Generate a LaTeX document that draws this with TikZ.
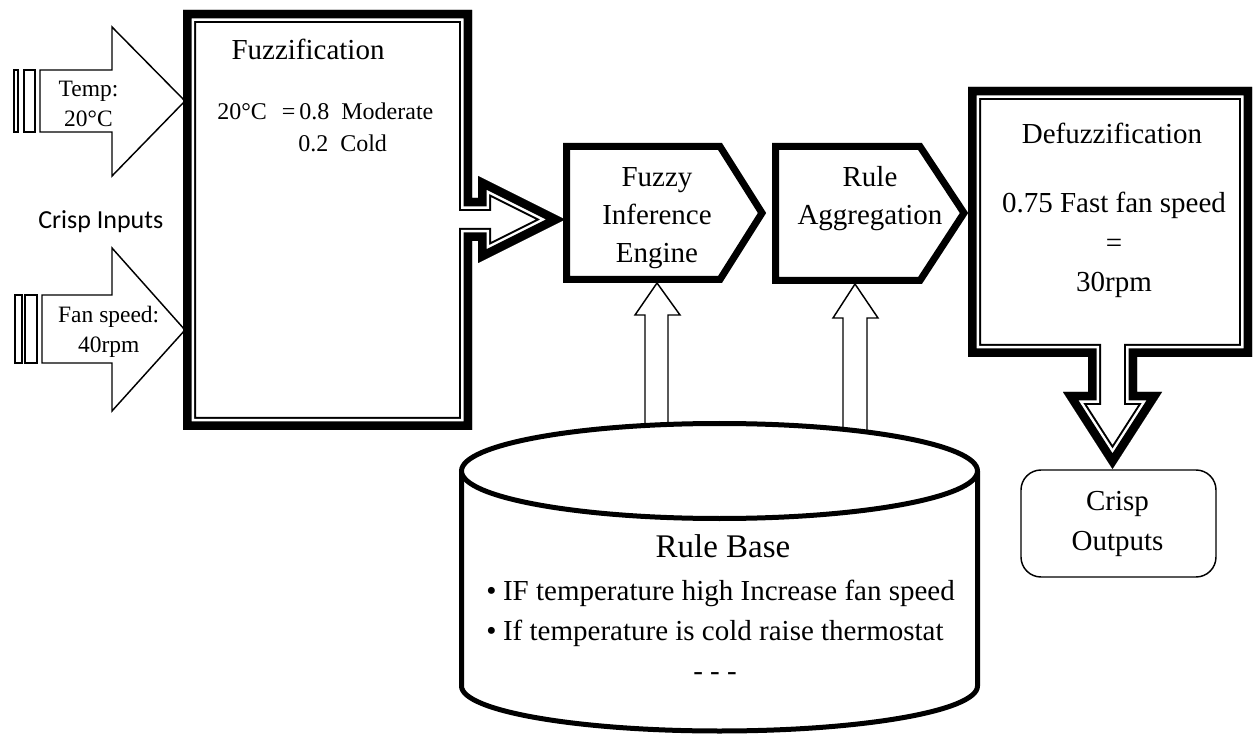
\documentclass[tikz,border=0pt]{standalone}
\usepackage{fontspec}
\setmainfont{Liberation Serif}
\newfontfamily\calibrifont{Carlito}

% outline of a block drawn with a thick-thin compound border, kept inside the shape
\newcommand\compoundshape[1]{%
  \begin{scope}
    \clip #1;
    \fill[white] #1;
    \draw[line width=19.5pt] #1;
    \draw[white, line width=16.5pt] #1;
    \draw[line width=12.75pt] #1;
  \end{scope}}

\begin{document}
\begin{tikzpicture}[x=0.75pt, y=-0.75pt, line join=miter]
\tikzset{
  blockarrow/.style={draw=black, line width=1.1pt, fill=white},
  pentbox/.style={draw=black, line width=5.25pt, fill=white},
  cylline/.style={draw=black, line width=3.75pt},
  bigtext/.style={font=\fontsize{21.75}{28.5}\selectfont, align=center, inner sep=0pt},
  midtext/.style={font=\fontsize{18}{22.5}\selectfont, inner sep=0pt},
  smalltext/.style={font=\fontsize{17.6}{22.5}\selectfont, align=center, inner sep=0pt},
}
\useasboundingbox (0,0) rectangle (1254,734);

% ---- crisp input arrows (striped block arrows)
\draw[blockarrow] (14,70) rectangle (18,132);
\draw[blockarrow] (24,70) rectangle (35,132);
\draw[blockarrow] (40,70) -- (112,70) -- (112,27) -- (185,101) -- (112,176) -- (112,132) -- (40,132) -- cycle;
\draw[blockarrow] (15,295) rectangle (22,363);
\draw[blockarrow] (25,295) rectangle (37,363);
\draw[blockarrow] (42,295) -- (112,295) -- (112,248) -- (185,330) -- (112,411) -- (112,363) -- (42,363) -- cycle;

\node[smalltext] (temp) at (88.5,104.2) {Temp:\\20°C};
\node[smalltext] (fan) at (108.7,331.6) {Fan speed:\\40rpm};
\node[font=\calibrifont\fontsize{19.5}{24}\selectfont, inner sep=0pt, anchor=base west] (crispin) at (38,229) {Crisp Inputs};

% ---- fuzzification block with its outgoing arrow
\def\fuzzpath{(183,10) -- (472,10) -- (472,198) -- (478,198) -- (478,176) -- (565,219.5) -- (478,263) -- (478,241) -- (472,241) -- (472,430) -- (183,430) -- cycle}
\compoundshape{\fuzzpath}
\node[bigtext, anchor=base] (fuzz) at (308,60) {Fuzzification};
\node[midtext, anchor=base west] (memb1) at (217,120) {20°C\hspace{11.25pt}=\hspace{3pt}0.8\hspace{9pt}Moderate};
\node[midtext, anchor=base west] (memb2) at (298,152) {0.2\hspace{9pt}Cold};

% ---- inference and aggregation blocks
\draw[pentbox] (566.5,146.5) -- (720,146.5) -- (762,213) -- (720,279.5) -- (566.5,279.5) -- cycle;
\node[bigtext] (fie) at (657,218.5) {Fuzzy\\Inference\\Engine};
\draw[pentbox] (775.5,146.5) -- (920,146.5) -- (964,213) -- (920,280.5) -- (775.5,280.5) -- cycle;
\node[bigtext] (agg) at (870,198.5) {Rule\\Aggregation};

% ---- defuzzification block with its downward arrow
\def\defuzzpath{(968,87) -- (1252,87) -- (1252,357) -- (1137,357) -- (1137,392) -- (1162,392) -- (1112.5,469) -- (1063,392) -- (1088,392) -- (1088,357) -- (968,357) -- cycle}
\compoundshape{\defuzzpath}
\node[bigtext, anchor=base] (defuzz) at (1112,144) {Defuzzification};
\node[bigtext, font=\fontsize{21.75}{29.6}\selectfont] (result) at (1114,245) {0.75 Fast fan speed\\=\\30rpm};

% ---- rule base feeding arrows
\draw[blockarrow] (645,445) -- (645,315) -- (635,315) -- (657,283) -- (680,315) -- (668,315) -- (668,445) -- cycle;
\draw[blockarrow] (843,445) -- (843,318) -- (833,318) -- (855,284) -- (878,318) -- (867,318) -- (867,445) -- cycle;

% ---- rule base cylinder
\fill[white] (461.5,471) -- (461.5,686) arc[start angle=180, end angle=0, x radius=258, y radius=45] -- (977.5,471) -- cycle;
\draw[cylline] (461.5,471) -- (461.5,686) arc[start angle=180, end angle=0, x radius=258, y radius=45] -- (977.5,471);
\draw[cylline, fill=white] (719.5,471) ellipse[x radius=258, y radius=47.5];
\node[font=\fontsize{24.75}{30}\selectfont, inner sep=0pt, anchor=base] (rb) at (723,557) {Rule Base};
\node[bigtext, anchor=base west] (rule1) at (486,600) {\textbullet\hspace{5pt}IF temperature high Increase fan speed};
\node[bigtext, anchor=base west] (rule2) at (486,640) {\textbullet\hspace{5pt}If temperature is cold raise thermostat};
\node[bigtext, anchor=base] (more) at (715,680) {- - -};

% ---- crisp output
\node[draw, line width=1.1pt, rounded corners=15pt, minimum width=146.25pt, minimum height=80.25pt, fill=white] (outbox) at (1118.5,523.5) {};
\node[bigtext, font=\fontsize{21.75}{30}\selectfont] (out) at (1117.5,524.3) {Crisp\\Outputs};
\end{tikzpicture}
\end{document}
